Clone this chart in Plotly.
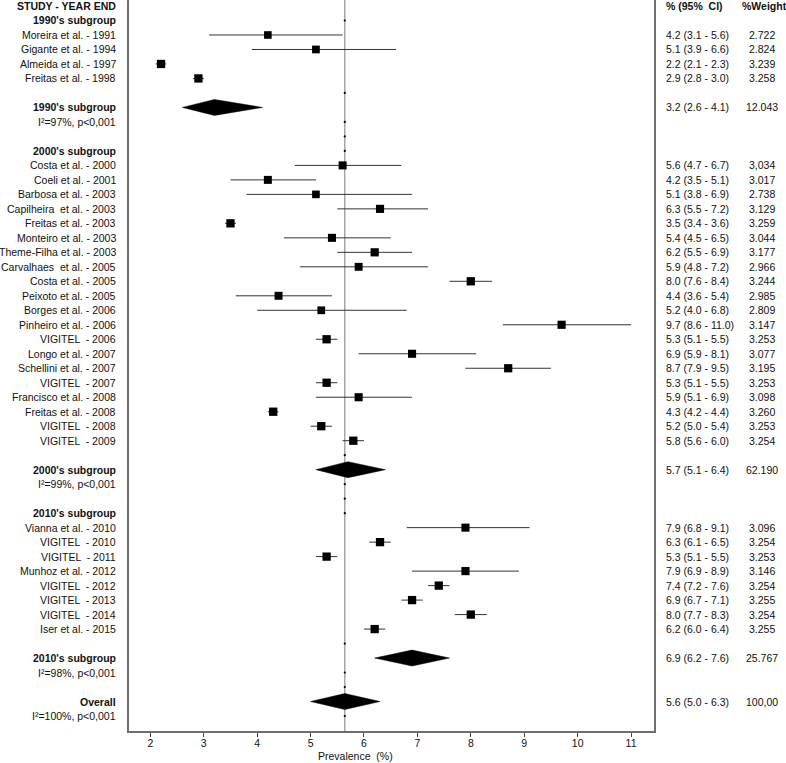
import plotly.graph_objects as go

# ---------------- data ----------------
group_names = ["1990's subgroup", "2000's subgroup", "2010's subgroup"]

studies_1990 = ["Moreira et al. - 1991", "Gigante et al. - 1994", "Almeida et al. - 1997", "Freitas et al. - 1998"]
est_1990 = [4.2, 5.1, 2.2, 2.9]
lo_1990 = [3.1, 3.9, 2.1, 2.8]
hi_1990 = [5.6, 6.6, 2.3, 3.0]
wt_1990 = ["2.722", "2.824", "3.239", "3.258"]

studies_2000 = ["Costa et al. - 2000", "Coeli et al. - 2001", "Barbosa et al. - 2003", "Capilheira  et al. - 2003",
                "Freitas et al. - 2003", "Monteiro et al. - 2003", "Theme-Filha et al. - 2003", "Carvalhaes  et al. - 2005",
                "Costa et al. - 2005", "Peixoto et al. - 2005", "Borges et al. - 2006", "Pinheiro et al. - 2006",
                "VIGITEL  - 2006", "Longo et al. - 2007", "Schellini et al. - 2007", "VIGITEL  - 2007",
                "Francisco et al. - 2008", "Freitas et al. - 2008", "VIGITEL  - 2008", "VIGITEL  - 2009"]
est_2000 = [5.6, 4.2, 5.1, 6.3, 3.5, 5.4, 6.2, 5.9, 8.0, 4.4, 5.2, 9.7, 5.3, 6.9, 8.7, 5.3, 5.9, 4.3, 5.2, 5.8]
lo_2000 = [4.7, 3.5, 3.8, 5.5, 3.4, 4.5, 5.5, 4.8, 7.6, 3.6, 4.0, 8.6, 5.1, 5.9, 7.9, 5.1, 5.1, 4.2, 5.0, 5.6]
hi_2000 = [6.7, 5.1, 6.9, 7.2, 3.6, 6.5, 6.9, 7.2, 8.4, 5.4, 6.8, 11.0, 5.5, 8.1, 9.5, 5.5, 6.9, 4.4, 5.4, 6.0]
wt_2000 = ["3,034", "3.017", "2.738", "3.129", "3.259", "3.044", "3.177", "2.966", "3.244", "2.985",
           "2.809", "3.147", "3.253", "3.077", "3.195", "3.253", "3.098", "3.260", "3.253", "3.254"]

studies_2010 = ["Vianna et al. - 2010", "VIGITEL  - 2010", "VIGITEL  - 2011", "Munhoz et al. - 2012",
                "VIGITEL  - 2012", "VIGITEL  - 2013", "VIGITEL  - 2014", "Iser et al. - 2015"]
est_2010 = [7.9, 6.3, 5.3, 7.9, 7.4, 6.9, 8.0, 6.2]
lo_2010 = [6.8, 6.1, 5.1, 6.9, 7.2, 6.7, 7.7, 6.0]
hi_2010 = [9.1, 6.5, 5.5, 8.9, 7.6, 7.1, 8.3, 6.4]
wt_2010 = ["3.096", "3.254", "3.253", "3.146", "3.254", "3.255", "3.254", "3.255"]

sub_est = [3.2, 5.7, 6.9]
sub_lo = [2.6, 5.1, 6.2]
sub_hi = [4.1, 6.4, 7.6]
sub_wt = ["12.043", "62.190", "25.767"]
sub_het = ["I²=97%, p<0,001", "I²=99%, p<0,001", "I²=98%, p<0,001"]

overall_est = 5.64
overall_lo = 5.0
overall_hi = 6.3
overall_ci = "5.6 (5.0 - 6.3)"
overall_wt = "100,00"
overall_het = "I²=100%, p<0,001"

x_ticks = [2, 3, 4, 5, 6, 7, 8, 9, 10, 11]
x_title = "Prevalence  (%)"
head_left = "STUDY - YEAR END"
head_ci = "% (95%  CI)"
head_wt = "%Weight"

groups = [
    (studies_1990, est_1990, lo_1990, hi_1990, wt_1990),
    (studies_2000, est_2000, lo_2000, hi_2000, wt_2000),
    (studies_2010, est_2010, lo_2010, hi_2010, wt_2010),
]

# ---------------- layout of rows ----------------
FONT = "Liberation Sans, Arial, sans-serif"
FS = 10.5
W, H = 786, 763
L, R, T, B = 129, 132, 0, 32
plot_w = W - L - R
plot_h = H - T - B
row_px = 14.49
y_min = -6 / row_px
y_max = y_min + plot_h / row_px

def fmt_ci(e, l, h):
    return f"{e:.1f} ({l:.1f} - {h:.1f})"

rows_study = []
rows_diamond = []
dot_rows = []
header_rows = []

r = 1
for gi, (names, es, los, his, wts) in enumerate(groups):
    header_rows.append((r, group_names[gi]))
    dot_rows.append(r)
    r += 1
    for n, e, lo, hi, w in zip(names, es, los, his, wts):
        rows_study.append((r, n, e, lo, hi, w))
        r += 1
    dot_rows.append(r)          # blank row
    r += 1
    rows_diamond.append((r, group_names[gi], sub_est[gi], sub_lo[gi], sub_hi[gi], sub_wt[gi], sub_het[gi],
                         fmt_ci(sub_est[gi], sub_lo[gi], sub_hi[gi])))
    r += 1
    dot_rows.append(r)          # heterogeneity row
    r += 1
    dot_rows.append(r)          # blank row
    r += 1
overall_row = r
rows_diamond.append((overall_row, "Overall", overall_est, overall_lo, overall_hi, overall_wt, overall_het, overall_ci))
dot_rows.append(overall_row + 1)

fig = go.Figure()

fig.add_shape(type="line", xref="x", yref="paper", x0=overall_est, x1=overall_est, y0=0, y1=1,
              line=dict(color="#9a9a9a", width=1.3), layer="below")

cx, cy = [], []
for (row, n, e, lo, hi, w) in rows_study:
    cx += [lo, hi, None]
    cy += [row, row, None]
fig.add_trace(go.Scatter(x=cx, y=cy, mode="lines", line=dict(color="#333333", width=1), hoverinfo="skip",
                         showlegend=False))

sizes = [8.3 * (float(s[5].replace(",", ".")) / 3.25) ** 0.5 for s in rows_study]
fig.add_trace(go.Scatter(x=[s[2] for s in rows_study], y=[s[0] for s in rows_study], mode="markers",
                         marker=dict(symbol="square", color="#000000", size=sizes, opacity=1, line=dict(width=0)),
                         showlegend=False, hoverinfo="skip"))

hh = 0.55
for (row, n, e, lo, hi, w, het, ci) in rows_diamond:
    fig.add_trace(go.Scatter(x=[lo, e, hi, e, lo], y=[row, row - hh, row, row + hh, row],
                             mode="lines", fill="toself", fillcolor="black", line=dict(color="black", width=0.5),
                             showlegend=False, hoverinfo="skip"))

fig.add_trace(go.Scatter(x=[overall_est] * len(dot_rows), y=dot_rows, mode="markers",
                         marker=dict(color="black", size=2.2), showlegend=False, hoverinfo="skip"))

ann = []
xl = (118 - L) / plot_w
xc = (664 - L) / plot_w
xw = (762 - L) / plot_w

def add(x, y, text, anchor, bold=False):
    ann.append(dict(xref="paper", yref="y", x=x, y=y, text=(f"<b>{text}</b>" if bold else text),
                    xanchor=anchor, yanchor="middle", showarrow=False,
                    font=dict(family=FONT, size=FS, color="#111111")))

add(xl, 0, head_left, "right", True)
add(xc, 0, head_ci, "left", True)
add((740 - L) / plot_w, 0, head_wt, "left", True)
for (row, name) in header_rows:
    add(xl, row, name, "right", True)
for (row, n, e, lo, hi, w) in rows_study:
    add(xl, row, n, "right")
    add(xc, row, fmt_ci(e, lo, hi), "left")
    add(xw, row, w, "center")
for (row, n, e, lo, hi, w, het, ci) in rows_diamond:
    add(xl, row, n, "right", True)
    add(xl, row + 1, het, "right")
    add(xc, row, ci, "left")
    add(xw, row, w, "center")

ann.append(dict(xref="paper", yref="paper", x=(355 - L) / plot_w, y=-(756 - (T + plot_h)) / plot_h,
                text=x_title, showarrow=False, xanchor="center", yanchor="middle",
                font=dict(family=FONT, size=FS, color="#111111")))

fig.update_layout(
    width=W, height=H,
    margin=dict(l=L, r=R, t=T, b=B, pad=0),
    plot_bgcolor="white", paper_bgcolor="white",
    annotations=ann,
    xaxis=dict(range=[1.60, 11.43], tickvals=x_ticks, ticks="outside", ticklen=4, tickwidth=1,
               tickcolor="#444444", showline=True, linecolor="#6e6e6e", linewidth=1.6, mirror=False,
               showgrid=False, zeroline=False, tickfont=dict(family=FONT, size=FS, color="#111111"),
               ticklabelstandoff=-2, fixedrange=True),
    yaxis=dict(range=[y_max, y_min], showticklabels=False, ticks="", showgrid=False, zeroline=False,
               showline=True, mirror=True, linecolor="#6e6e6e", linewidth=1.6, fixedrange=True),
    font=dict(family=FONT, size=FS, color="#111111"),
)

fig.write_html("out.html", config={"displayModeBar": False},
               post_script="document.body.style.margin='0';document.body.style.padding='0';")
